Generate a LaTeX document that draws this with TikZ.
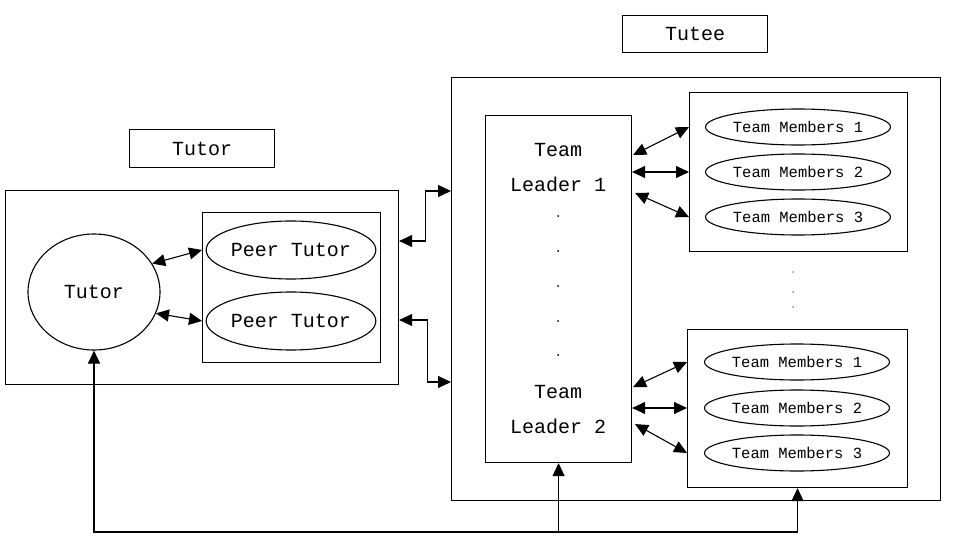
\documentclass[tikz,border=0pt]{standalone}
\usepackage{fontspec}
\setmainfont{Liberation Mono}
\usetikzlibrary{arrows.meta,shapes.geometric,calc}
\begin{document}
\begin{tikzpicture}[x=1pt,y=-1pt,
  line width=1.1pt,
  box/.style={draw,rectangle,anchor=north west,inner sep=0pt},
  oval/.style={draw,ellipse,inner sep=0pt},
  big/.style={font=\fontsize{20}{35}\selectfont},
  small/.style={font=\fontsize{15.5}{18}\selectfont},
  tip/.tip={Triangle[length=13pt,width=12pt]},
  biarrow/.style={tip-tip},
  onearrow/.style={-tip},
  dotmark/.style={circle,fill=black,inner sep=0pt,minimum size=2pt},
  faintdot/.style={circle,fill=black!45,inner sep=0pt,minimum size=2pt}]
\useasboundingbox (0,0) rectangle (960,540);

% titles
\node[box,minimum width=145,minimum height=38,big] (tutorlabel) at (129,129) {};
\node[big] (tutorlabeltxt) at (tutorlabel.center) {Tutor};
\node[box,minimum width=145,minimum height=37,big] (tuteelabel) at (622,15) {};
\node[big] (tuteelabeltxt) at (tuteelabel.center) {Tutee};

% tutor side
\node[box,minimum width=393,minimum height=194] (tutorbox) at (5,190) {};
\node[oval,minimum width=132,minimum height=116,big] (tutorc) at (94,292) {Tutor};
\node[box,minimum width=178,minimum height=150] (peerbox) at (202,212) {};
\node[oval,minimum width=154,minimum height=58,big] (p1) at (291,250) {Peer Tutor};
\node[oval,minimum width=154,minimum height=58,big] (p2) at (291,321) {Peer Tutor};

% tutee side
\node[box,minimum width=489,minimum height=423] (tuteebox) at (451,77) {};
\node[box,minimum width=146,minimum height=347] (tl) at (485,115) {};
\node[big,align=center] (tl1) at (558,168) {Team\\Leader 1};
\node[big,align=center] (tl2) at (558,410) {Team\\Leader 2};
\foreach \yy [count=\i] in {216,251,286,321,355} \node[dotmark] (tldot\i) at (558,\yy) {};

\node[box,minimum width=218,minimum height=159] (mb1) at (689,92) {};
\node[oval,minimum width=185,minimum height=36,small] (m11) at (798,127) {Team Members 1};
\node[oval,minimum width=185,minimum height=36,small] (m12) at (798,172) {Team Members 2};
\node[oval,minimum width=185,minimum height=36,small] (m13) at (798,217) {Team Members 3};
\foreach \yy [count=\i] in {272,292,307} \node[faintdot] (mdot\i) at (793,\yy) {};

\node[box,minimum width=220,minimum height=158] (mb2) at (687,329) {};
\node[oval,minimum width=185,minimum height=36,small] (m21) at (797,362) {Team Members 1};
\node[oval,minimum width=185,minimum height=36,small] (m22) at (797,408) {Team Members 2};
\node[oval,minimum width=185,minimum height=36,small] (m23) at (797,453) {Team Members 3};

% connectors tutor <-> peer
\draw[biarrow] (tutorc.26) -- (peerbox.west |- p1);
\draw[biarrow] (tutorc.-19) -- (peerbox.west |- p2);

% tutor box <-> tutee box
\draw[biarrow] ($(tutorbox.north east)+(0,51)$) -- ++(26,0) |- ($(tuteebox.north west)+(0,114)$);
\draw[biarrow] ($(tutorbox.north east)+(0,130)$) -- ++(28,0) |- ($(tuteebox.north west)+(0,305)$);

% team leader 1 <-> members
\draw[biarrow] ($(tl.north east)+(1,40)$) -- (mb1.west |- m11);
\draw[biarrow] (tl.east |- m12) -- (mb1.west |- m12);
\draw[biarrow] ($(tl.north east)+(3,78)$) -- (mb1.west |- m13);

% team leader 2 <-> members
\draw[biarrow] ($(tl.south east)+(1,-76)$) -- (mb2.west |- m21);
\draw[biarrow] (tl.east |- m22) -- (mb2.west |- m22);
\draw[biarrow] ($(tl.south east)+(3,-39)$) -- (mb2.west |- m23);

% feedback line
\coordinate (fb) at (0,532);
\draw[biarrow] (tutorc.south) -- (tutorc.south |- fb) -| (mb2.south);
\draw[onearrow] (tl.south |- fb) -- (tl.south);
\end{tikzpicture}
\end{document}
